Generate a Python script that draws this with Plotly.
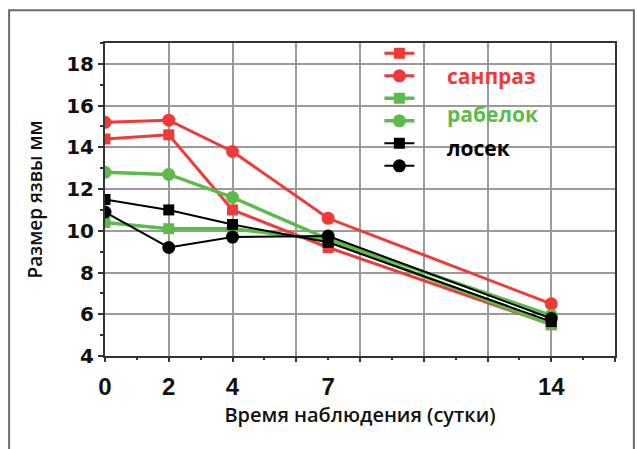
import plotly.graph_objects as go

days = [0, 2, 4, 7, 14]
tick_vals = [0, 2, 4, 7, 14]
tick_text = ["0", "2", "4", "7", "14"]

sanpraz_sq = [14.4, 14.6, 11.0, 9.2, 5.5]
sanpraz_ci = [15.2, 15.3, 13.8, 10.6, 6.5]
rabelok_sq = [10.4, 10.1, 10.1, 9.55, 5.5]
rabelok_ci = [12.8, 12.7, 11.6, 9.6, 5.95]
losek_sq = [11.5, 11.0, 10.3, 9.45, 5.65]
losek_ci = [10.9, 9.2, 9.7, 9.75, 5.8]

group_labels = ["санпраз", "рабелок", "лосек"]
x_title = "Время наблюдения (сутки)"
y_title = "Размер язвы мм"

RED = "#F03A3A"
GREEN = "#5CBB4A"
BLACK = "#000000"

series = [
    (sanpraz_sq, RED, "square", 3, 11),
    (sanpraz_ci, RED, "circle", 3, 13),
    (rabelok_sq, GREEN, "square", 3.5, 11),
    (rabelok_ci, GREEN, "circle", 3.5, 13),
    (losek_sq, BLACK, "square", 2, 11),
    (losek_ci, BLACK, "circle", 2, 13),
]

fig = go.Figure()
# invisible carrier trace so that the grid/tick axis (x2) gets drawn
fig.add_trace(go.Scatter(
    x=days, y=sanpraz_sq, xaxis="x2", yaxis="y", mode="markers",
    marker=dict(opacity=0), hoverinfo="skip", showlegend=False,
))
for vals, col, sym, lw, ms in series:
    fig.add_trace(go.Scatter(
        x=days, y=vals, mode="lines+markers", name="\u00a0",
        line=dict(color=col, width=lw),
        marker=dict(color=col, symbol=sym, size=ms),
        showlegend=True,
    ))

axis_col = "#333333"
grid_col = "#9a9a9a"

fig.update_layout(
    width=637, height=449,
    margin=dict(l=105, r=22, t=43, b=93),
    paper_bgcolor="white", plot_bgcolor="white",
    showlegend=True,
    legend=dict(
        x=0.538, y=1.019, xanchor="left", yanchor="top",
        bgcolor="rgba(0,0,0,0)", borderwidth=0,
        font=dict(size=15, family="DejaVu Sans"),
        tracegroupgap=0, itemwidth=30,
    ),
    xaxis=dict(
        range=[0, 16], tickmode="array", tickvals=tick_vals, ticktext=tick_text,
        showgrid=False, zeroline=False, ticks="", ticklabelstandoff=8,
        automargin=False,
        tickfont=dict(family="Liberation Sans", size=24, color="#111111", weight="bold"),
        showline=True, linecolor=axis_col, linewidth=2, mirror=True,
        title=dict(text=x_title, font=dict(family="Open Sans", size=20, color="#111111", weight=600), standoff=9),
    ),
    xaxis2=dict(
        range=[0, 16], overlaying="x", anchor="y", side="bottom",
        tickmode="linear", tick0=0, dtick=2, showticklabels=False,
        showgrid=True, gridcolor=grid_col, gridwidth=1.5, zeroline=False,
        ticks="outside", ticklen=5, tickwidth=1.5, tickcolor=axis_col,
        minor=dict(dtick=1, tick0=0, ticks="outside", ticklen=3, tickwidth=1.5, tickcolor=axis_col, showgrid=False),
        showline=False, automargin=False,
    ),
    yaxis=dict(
        range=[4, 19], tickmode="linear", tick0=4, dtick=2,
        showgrid=True, gridcolor=grid_col, gridwidth=1.5, zeroline=False,
        ticks="outside", ticklen=5, tickwidth=1.5, tickcolor=axis_col,
        minor=dict(dtick=1, tick0=4, ticks="outside", ticklen=3, tickwidth=1.5, tickcolor=axis_col, showgrid=False),
        tickfont=dict(family="DejaVu Sans", size=20, color="#111111", weight="bold"),
        showline=True, linecolor=axis_col, linewidth=2, mirror=True,
        automargin=False,
        title=dict(text=y_title, font=dict(family="Open Sans", size=19, color="#111111", weight=600), standoff=19),
    ),
    shapes=[
        dict(type="rect", xref="paper", yref="paper",
             x0=-0.188, x1=1.037, y0=-0.4, y1=1.105,
             line=dict(color="#6a6a6a", width=2), fillcolor="rgba(0,0,0,0)", layer="below"),
        dict(type="rect", xref="x domain", yref="y domain",
             x0=0.627, x1=0.896, y0=0.546, y1=0.998,
             line=dict(width=0), fillcolor="white", layer="below"),
    ],
)

label_y = [0.895, 0.773, 0.663]
label_cols = [RED, GREEN, BLACK]
for txt, yy, col in zip(group_labels, label_y, label_cols):
    fig.add_annotation(
        text=txt, xref="paper", yref="paper", x=0.667, y=yy,
        xanchor="left", yanchor="middle", showarrow=False,
        font=dict(family="Open Sans", size=21, color=col, weight="bold"),
    )

fig.write_html(
    "out.html",
    config={"displayModeBar": False},
    post_script="document.body.style.margin='0';document.body.style.overflow='hidden';",
)
